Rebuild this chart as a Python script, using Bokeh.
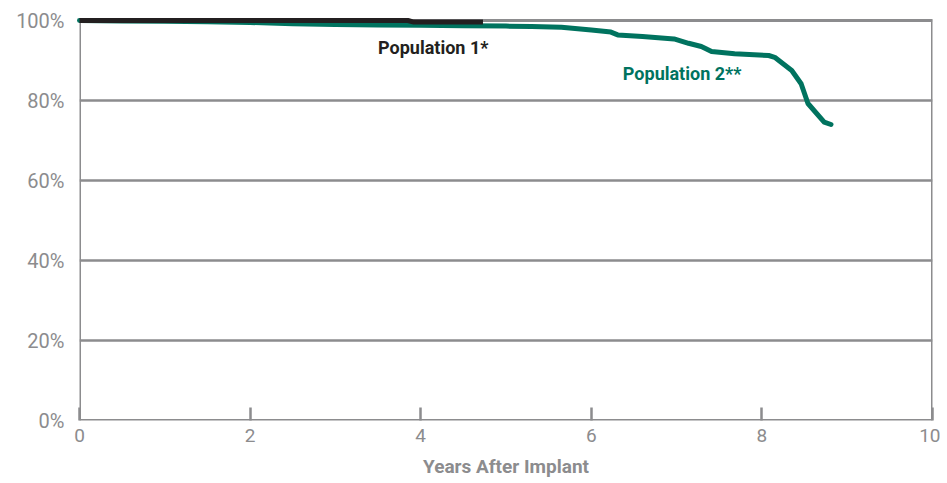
from bokeh.plotting import figure
from bokeh.models import Range1d, FixedTicker, PrintfTickFormatter, Label, BoxAnnotation
from bokeh.embed import file_html
from bokeh.resources import INLINE

# Data
pop1_years = [0.0, 1.0, 2.0, 3.0, 3.85, 3.92, 4.3, 4.73]
pop1_surv = [100.0, 100.0, 100.0, 100.0, 100.0, 99.6, 99.6, 99.6]

pop2_years = [0.0, 0.5, 1.0, 1.5, 2.0, 2.5, 3.0, 3.5, 4.0, 4.5, 5.0, 5.3, 5.65,
              6.0, 6.23, 6.31, 6.6, 6.97, 7.14, 7.29, 7.41, 7.68, 8.08, 8.15,
              8.35, 8.46, 8.54, 8.73, 8.81]
pop2_surv = [100.0, 99.9, 99.8, 99.7, 99.5, 99.2, 99.0, 98.9, 98.8, 98.7, 98.6, 98.5, 98.3,
             97.6, 97.1, 96.4, 96.0, 95.4, 94.3, 93.5, 92.25, 91.7, 91.25, 90.8,
             87.5, 84.2, 79.25, 74.6, 74.0]

x_ticks = [0, 2, 4, 6, 8, 10]
y_ticks = [0, 20, 40, 60, 80, 100]

GRAY = "#8c8c8e"
TEAL = "#00735f"
BLACK = "#231f20"
FONT = "Roboto"

p = figure(frame_width=853, frame_height=406, output_backend="svg", toolbar_location=None,
           x_range=Range1d(0, 10), y_range=Range1d(0, 101.5),
           min_border_left=79, min_border_right=8, min_border_top=14, min_border_bottom=40)

p.outline_line_color = None
p.background_fill_color = "white"
p.border_fill_color = "white"

p.xgrid.visible = False
p.ygrid.ticker = FixedTicker(ticks=y_ticks)
p.ygrid.grid_line_color = GRAY
p.ygrid.grid_line_width = 2.5

# plot box border (0..10 x 0..100%)
p.add_layout(BoxAnnotation(left=x_ticks[0], right=x_ticks[-1], bottom=y_ticks[0], top=y_ticks[-1],
                           fill_color=None, line_color=GRAY, line_width=3, line_alpha=1.0))

# y axis
p.yaxis.ticker = FixedTicker(ticks=y_ticks)
p.yaxis.formatter = PrintfTickFormatter(format="%d%%")
p.yaxis.axis_line_color = None
p.yaxis.major_tick_line_color = None
p.yaxis.minor_tick_line_color = None
p.yaxis.major_label_standoff = 9
p.yaxis.major_label_text_font = FONT
p.yaxis.major_label_text_font_size = "20px"
p.yaxis.major_label_text_color = GRAY

# x axis
p.xaxis.ticker = FixedTicker(ticks=x_ticks)
p.xaxis.axis_line_color = None
p.xaxis.major_tick_line_color = GRAY
p.xaxis.major_tick_line_width = 2.5
p.xaxis.major_tick_in = 13
p.xaxis.major_tick_out = 0
p.xaxis.minor_tick_line_color = None
p.xaxis.major_label_standoff = 8
p.xaxis.major_label_text_font = FONT
p.xaxis.major_label_text_font_size = "19px"
p.xaxis.major_label_text_color = GRAY
p.xaxis.axis_label = "Years After Implant"
p.xaxis.axis_label_text_font = FONT
p.xaxis.axis_label_text_font_style = "bold"
p.xaxis.axis_label_text_font_size = "19px"
p.xaxis.axis_label_text_color = GRAY
p.xaxis.axis_label_standoff = 10

p.line(pop2_years, pop2_surv, line_color=TEAL, line_width=5, line_join="round", line_cap="round",
       level="overlay")
p.line(pop1_years, pop1_surv, line_color=BLACK, line_width=5, line_join="round", line_cap="butt",
       level="overlay")

p.add_layout(Label(x=3.5, y=93.3, text="Population 1*", text_font=FONT, text_font_style="bold",
                   text_font_size="18px", text_color=BLACK, text_baseline="middle", text_align="left"))
p.add_layout(Label(x=6.37, y=86.8, text="Population 2**", text_font=FONT, text_font_style="bold",
                   text_font_size="18px", text_color=TEAL, text_baseline="middle", text_align="left"))

open("out.html", "w").write(file_html(p, INLINE))
